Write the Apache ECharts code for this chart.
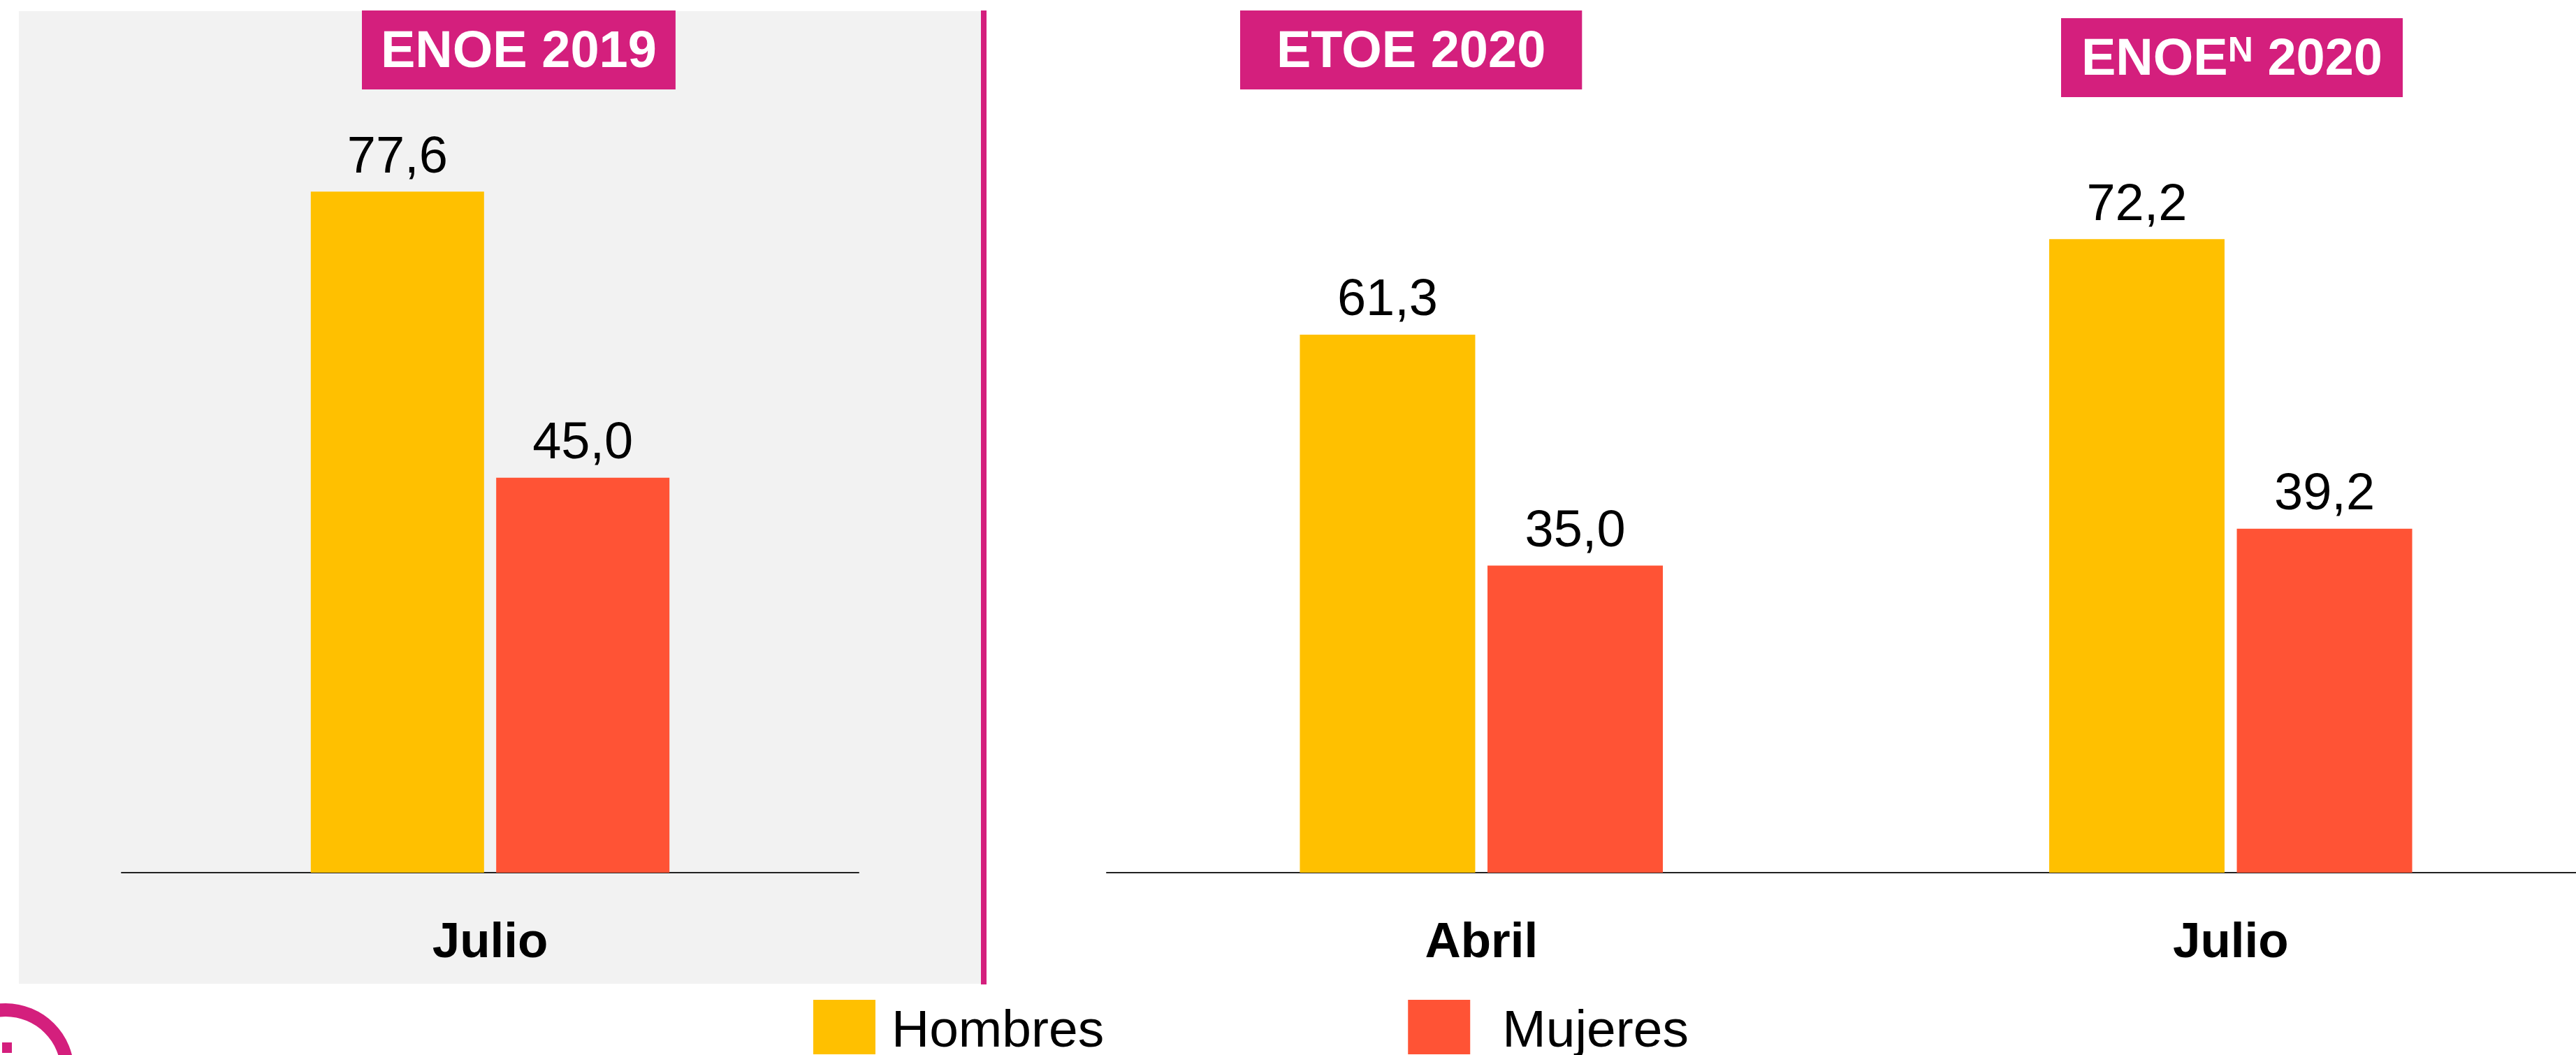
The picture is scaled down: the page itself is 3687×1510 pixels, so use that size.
<!DOCTYPE html>
<html>
<head>
<meta charset="utf-8">
<title>ENOE 2019 - ETOE 2020 - ENOE N 2020</title>
<script src="https://cdn.jsdelivr.net/npm/echarts@6/dist/echarts.min.js"></script>
<style>
  html, body { margin: 0; padding: 0; background: #ffffff; }
  #chart { width: 3687px; height: 1510px; }
</style>
</head>
<body>
<div id="chart"></div>
<script>
const months2019 = ['Julio']
const hombres2019 = [77.6]
const mujeres2019 = [45.0]

const months2020 = ['Abril', 'Julio']
const hombres2020 = [61.3, 72.2]
const mujeres2020 = [35.0, 39.2]

const seriesNames = ['Hombres', 'Mujeres']

const FONT = '"Liberation Sans", Arial, sans-serif'
const MAGENTA = '#D41F7D'
const YELLOW = '#FFC000'
const RED = '#FF5335'

const chart = echarts.init(document.getElementById('chart'))

const fmt = p => p.value.toFixed(1).replace('.', ',')

const barSeries = (name, data, color, axisIndex, width) => ({
  name,
  type: 'bar',
  xAxisIndex: axisIndex,
  yAxisIndex: axisIndex,
  data,
  barWidth: width,
  barGap: '7%',
  itemStyle: { color },
  label: {
    show: true,
    position: 'top',
    distance: 11,
    formatter: fmt,
    color: '#000',
    fontFamily: FONT,
    fontSize: 74
  },
  animation: false
})

const catAxis = (gridIndex, data) => ({
  type: 'category',
  gridIndex,
  data,
  axisLine: { lineStyle: { color: '#222', width: 2 } },
  axisTick: { show: false },
  axisLabel: {
    margin: 66,
    color: '#000',
    fontFamily: FONT,
    fontWeight: 'bold',
    fontSize: 71
  }
})

const valAxis = gridIndex => ({
  type: 'value',
  gridIndex,
  min: 0,
  max: 90,
  show: false
})

const badge = (text, left, top, padX, rich) => ({
  text,
  left,
  top,
  padding: [23, padX, 15, padX],
  backgroundColor: MAGENTA,
  textStyle: {
    color: '#fff',
    fontFamily: FONT,
    fontWeight: 'bold',
    fontSize: 74,
    lineHeight: 75,
    rich
  }
})

const legendText = (left) => ({
  color: '#000',
  fontFamily: FONT,
  fontSize: 75,
  padding: [14, 0, 0, left]
})

const option = {
  backgroundColor: '#ffffff',
  animation: false,
  title: [
    badge('ENOE 2019', 518, 15, 27),
    badge('ETOE 2020', 1775, 15, 52),
    badge('{m|ENOE}{s|N}{m| 2020}', 2950, 26, 29, {
      m: { color: '#fff', fontFamily: FONT, fontWeight: 'bold', fontSize: 74, lineHeight: 75 },
      s: { color: '#fff', fontFamily: FONT, fontWeight: 'bold', fontSize: 50, lineHeight: 30, verticalAlign: 'top' }
    })
  ],
  legend: {
    left: 1164,
    top: 1431,
    padding: 0,
    itemWidth: 89,
    itemHeight: 78,
    itemGap: 435,
    selectedMode: false,
    icon: 'rect',
    data: seriesNames,
    formatter: name => (name === seriesNames[0] ? `{h|${name}}` : `{f|${name}}`),
    textStyle: {
      rich: { h: legendText(18), f: legendText(41) }
    }
  },
  grid: [
    { left: 174, width: 1055, top: 118.6, height: 1130.4, outerBoundsMode: 'none' },
    { left: 1584, width: 2145, top: 118.6, height: 1130.4, outerBoundsMode: 'none' }
  ],
  xAxis: [catAxis(0, months2019), catAxis(1, months2020)],
  yAxis: [valAxis(0), valAxis(1)],
  series: [
    barSeries(seriesNames[0], hombres2019, YELLOW, 0, 248),
    barSeries(seriesNames[1], mujeres2019, RED, 0, 248),
    barSeries(seriesNames[0], hombres2020, YELLOW, 1, 251),
    barSeries(seriesNames[1], mujeres2020, RED, 1, 251)
  ],
  graphic: [
    { type: 'rect', z: -10, shape: { x: 27, y: 16, width: 1377, height: 1392 }, style: { fill: '#F2F2F2' } },
    { type: 'rect', z: -9, shape: { x: 1404, y: 15, width: 8, height: 1394 }, style: { fill: MAGENTA } },
    { type: 'ring', z: -9, shape: { cx: 8, cy: 1534, r: 98, r0: 79 }, style: { fill: MAGENTA } },
    { type: 'rect', z: -9, shape: { x: 3, y: 1492, width: 14, height: 15 }, style: { fill: MAGENTA } }
  ]
}

chart.setOption(option)
</script>
</body>
</html>
